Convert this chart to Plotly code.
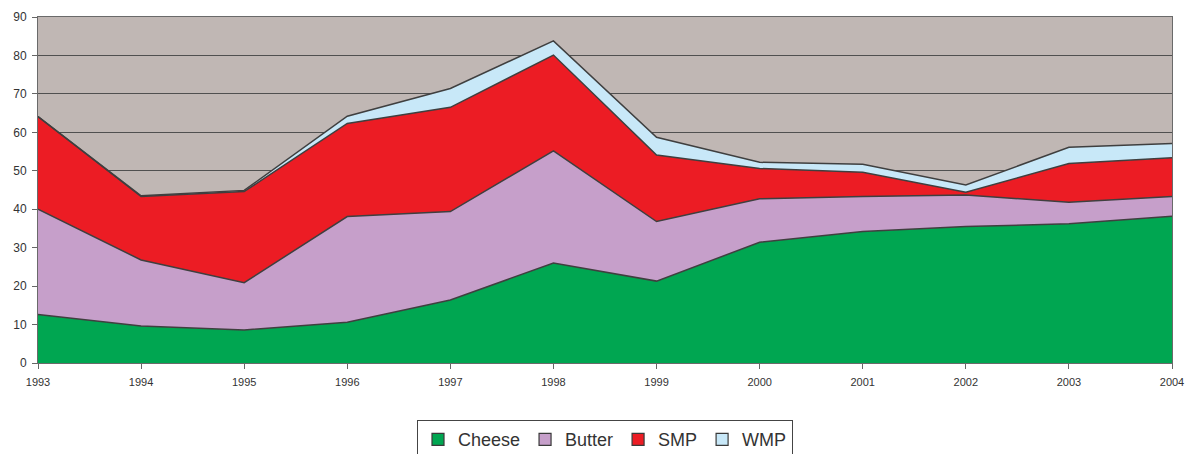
import plotly.graph_objects as go

years = [1993, 1994, 1995, 1996, 1997, 1998, 1999, 2000, 2001, 2002, 2003, 2004]
cheese = [12.6, 9.6, 8.6, 10.6, 16.4, 26.0, 21.3, 31.4, 34.2, 35.5, 36.2, 38.2]
butter = [27.4, 17.2, 12.3, 27.5, 23.0, 29.2, 15.5, 11.3, 9.1, 8.2, 5.6, 5.1]
smp = [24.1, 16.5, 23.7, 24.2, 27.1, 24.9, 17.3, 7.9, 6.3, 0.7, 10.1, 10.1]
wmp = [0.0, 0.2, 0.3, 1.9, 4.9, 3.7, 4.6, 1.6, 2.1, 1.9, 4.2, 3.7]

series = [
    ("Cheese", cheese, "#00A651"),
    ("Butter", butter, "#C69FCA"),
    ("SMP", smp, "#EC1C24"),
    ("WMP", wmp, "#C8E8F8"),
]

fig = go.Figure()
for name, vals, color in series:
    # stacked area for the series
    fig.add_trace(go.Scatter(
        x=years, y=vals, name=name, mode="lines",
        stackgroup="one", fillcolor=color, legendgroup=name,
        line=dict(color="#3f3f3f", width=1.5), showlegend=False,
    ))
    # square swatch used only as the legend key
    fig.add_trace(go.Bar(
        x=[None], y=[None], name=name, legendgroup=name,
        marker=dict(color=color, line=dict(color="#3a3a3a", width=1.2)),
        showlegend=True, hoverinfo="skip",
    ))

fig.update_layout(
    width=1196, height=454,
    margin=dict(l=38, r=24, t=17, b=91, autoexpand=False),
    paper_bgcolor="white",
    plot_bgcolor="#C0B7B4",
    font=dict(family="Liberation Sans, Arial, sans-serif", color="#333333"),
    showlegend=True,
    legend=dict(
        orientation="h", x=0.5, xanchor="center", y=-0.165, yanchor="top",
        bordercolor="#444444", borderwidth=1, bgcolor="white",
        font=dict(size=18, color="#333333"), traceorder="normal",
        itemwidth=30,
    ),
)
fig.update_xaxes(
    range=[1993, 2004], tickmode="array", tickvals=years,
    ticktext=[str(y) for y in years],
    ticks="outside", ticklen=5, tickcolor="#666666", ticklabelstandoff=4,
    showgrid=False, showline=True, linecolor="#6a6a6a", linewidth=1,
    mirror=True, tickfont=dict(size=11, color="#333333"), zeroline=False,
)
fig.update_yaxes(
    range=[0, 90], tickmode="linear", tick0=0, dtick=10,
    ticks="outside", ticklen=5, tickcolor="#666666", ticklabelstandoff=3,
    showgrid=True, gridcolor="#505050", gridwidth=1.2,
    showline=True, linecolor="#6a6a6a", linewidth=1, mirror=True,
    tickfont=dict(size=12, color="#333333"), zeroline=False,
)

fig.write_html("out.html")
